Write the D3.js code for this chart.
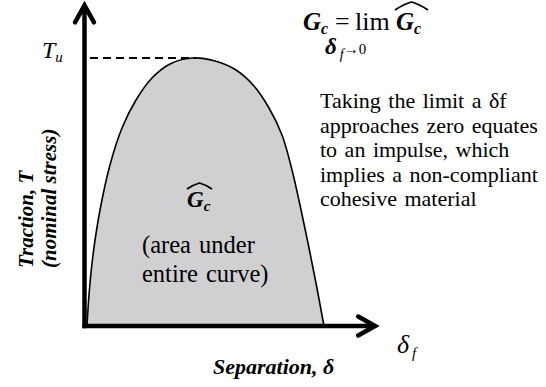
<!DOCTYPE html>
<html><head><meta charset="utf-8">
<script src="https://cdn.jsdelivr.net/npm/d3@7"></script>
<style>
  body { margin: 0; background: #fff; }
  svg { display: block; }
  text { font-family: "Liberation Serif", "Times New Roman", serif; fill: #000; }
</style>
</head><body>
<svg id="chart" width="546" height="387"></svg>
<script>
// Traction–separation curve, normalised: separation δ/δf and traction T/Tu
const separation = [0, 0.0084, 0.0253, 0.0549, 0.0970, 0.1477, 0.2068, 0.2743, 0.3502, 0.4430,
                    0.5401, 0.6287, 0.7046, 0.7679, 0.8228, 0.8650, 0.8987, 0.9325, 0.9662, 1.0];
const traction   = [0, 0.1157, 0.2649, 0.4328, 0.6007, 0.7388, 0.8433, 0.9254, 0.9776, 1.0,
                    0.9888, 0.9552, 0.8955, 0.8134, 0.7127, 0.5821, 0.4515, 0.3097, 0.1604, 0];

// Note text on the right
const noteLines = [
  "Taking the limit a \u03b4f",
  "approaches zero equates",
  "to an impulse, which",
  "implies a non-compliant",
  "cohesive material"
];
const areaLines = ["(area under", "entire curve)"];

const serif = "'Liberation Serif', 'Times New Roman', serif";
const svg = d3.select("#chart").attr("font-family", serif);
const x = d3.scaleLinear().domain([0, 1]).range([87, 324]);
const y = d3.scaleLinear().domain([0, 1]).range([326, 58]);

const pts = separation.map((s, i) => ({ s, t: traction[i] }));
const curve = d3.curveCatmullRom.alpha(0.5);

// Shaded area under the curve
svg.append("path")
  .datum(pts)
  .attr("fill", "#d0cfd1")
  .attr("d", d3.area().x(d => x(d.s)).y0(y(0)).y1(d => y(d.t)).curve(curve));

svg.append("path")
  .datum(pts)
  .attr("fill", "none")
  .attr("stroke", "#000")
  .attr("stroke-width", 1.6)
  .attr("d", d3.line().x(d => x(d.s)).y(d => y(d.t)).curve(curve));

// Dashed guide at peak traction Tu
svg.append("line")
  .attr("x1", 90).attr("x2", x(0.46))
  .attr("y1", y(1)).attr("y2", y(1))
  .attr("stroke", "#000").attr("stroke-width", 2)
  .attr("stroke-dasharray", "8,5");

// Axes with arrowheads
const ax = x(0) - 2.5, ay = y(0);
const xEnd = x(1.22), yTop = y(1.2);
svg.append("line").attr("x1", ax).attr("x2", ax).attr("y1", ay + 2.2).attr("y2", yTop + 1)
  .attr("stroke", "#000").attr("stroke-width", 4.5);
svg.append("line").attr("x1", ax - 2.2).attr("x2", xEnd - 1).attr("y1", ay).attr("y2", ay)
  .attr("stroke", "#000").attr("stroke-width", 4.5);
svg.append("polyline")
  .attr("points", [[ax - 9.5, yTop + 18], [ax, yTop + 1], [ax + 9.5, yTop + 18]].join(" "))
  .attr("fill", "none").attr("stroke", "#000").attr("stroke-width", 4.5)
  .attr("stroke-linecap", "round").attr("stroke-linejoin", "miter");
svg.append("polyline")
  .attr("points", [[xEnd - 18, ay - 9.5], [xEnd - 1, ay], [xEnd - 18, ay + 9.5]].join(" "))
  .attr("fill", "none").attr("stroke", "#000").attr("stroke-width", 4.5)
  .attr("stroke-linecap", "round").attr("stroke-linejoin", "miter");

// Tu label
const tu = svg.append("text").attr("x", 42).attr("y", 58).attr("font-style", "italic");
tu.append("tspan").attr("font-size", 24).text("T");
tu.append("tspan").attr("font-size", 15).attr("dy", 4).text("u");

// Axis titles
svg.append("text").attr("transform", "translate(33,268) rotate(-90)")
  .attr("font-size", 21).attr("font-weight", "bold").attr("font-style", "italic")
  .text("Traction, T");
svg.append("text").attr("transform", "translate(56,268) rotate(-90)")
  .attr("font-size", 21).attr("font-weight", "bold").attr("font-style", "italic")
  .text("(nominal stress)");
svg.append("text").attr("x", 213).attr("y", 374)
  .attr("font-size", 22).attr("font-weight", "bold").attr("font-style", "italic")
  .text("Separation, \u03b4");

// δf at the end of the separation axis
const df = svg.append("text").attr("x", 397).attr("y", 353).attr("font-style", "italic");
df.append("tspan").attr("font-size", 26).text("\u03b4");
df.append("tspan").attr("font-size", 15).attr("dy", 5).attr("dx", 3).text("f");

// Hat accent drawn over G_c
function hat(x0, x1, yb, h) {
  const xm = (x0 + x1) / 2;
  svg.append("path")
    .attr("d", `M${x0},${yb} Q${x0 + (xm - x0) * 0.55},${yb - h * 0.75} ${xm},${yb - h} Q${x1 - (x1 - xm) * 0.55},${yb - h * 0.75} ${x1},${yb}`)
    .attr("fill", "none").attr("stroke", "#000").attr("stroke-width", 1.8);
}

// Gc = lim Ĝc as δf → 0
const g1 = svg.append("text").attr("x", 303).attr("y", 30)
  .attr("font-weight", "bold").attr("font-style", "italic");
g1.append("tspan").attr("font-size", 25).text("G");
g1.append("tspan").attr("font-size", 16).attr("dy", 4).text("c");
svg.append("text").attr("x", 335).attr("y", 30).attr("font-size", 26).text("=");
svg.append("text").attr("x", 355).attr("y", 30).attr("font-size", 26).text("lim");
const g2 = svg.append("text").attr("x", 396).attr("y", 30)
  .attr("font-weight", "bold").attr("font-style", "italic");
g2.append("tspan").attr("font-size", 25).text("G");
g2.append("tspan").attr("font-size", 16).attr("dy", 4).text("c");
hat(395, 428, 10, 8);

const lim = svg.append("text").attr("x", 325).attr("y", 54);
lim.append("tspan").attr("font-size", 23).attr("font-weight", "bold").attr("font-style", "italic").text("\u03b4");
lim.append("tspan").attr("font-size", 14).attr("font-style", "italic").attr("dy", 5).attr("dx", 3).text("f");
lim.append("tspan").attr("font-size", 15).attr("dy", -5).text("\u21920");

// Ĝc inside the area
const g3 = svg.append("text").attr("x", 187).attr("y", 207)
  .attr("font-weight", "bold").attr("font-style", "italic");
g3.append("tspan").attr("font-size", 23).text("G");
g3.append("tspan").attr("font-size", 15).attr("dy", 4).text("c");
hat(187, 212, 189, 6);

svg.selectAll("text.area-note").data(areaLines).join("text")
  .attr("class", "area-note")
  .attr("x", 142).attr("y", (d, i) => 253 + i * 29)
  .attr("font-size", 24.5).attr("word-spacing", 2).text(d => d);

svg.selectAll("text.note").data(noteLines).join("text")
  .attr("class", "note")
  .attr("x", 320).attr("y", (d, i) => 108 + i * 24.6)
  .attr("font-size", 22).attr("word-spacing", 2).text(d => d);
</script>
</body></html>
